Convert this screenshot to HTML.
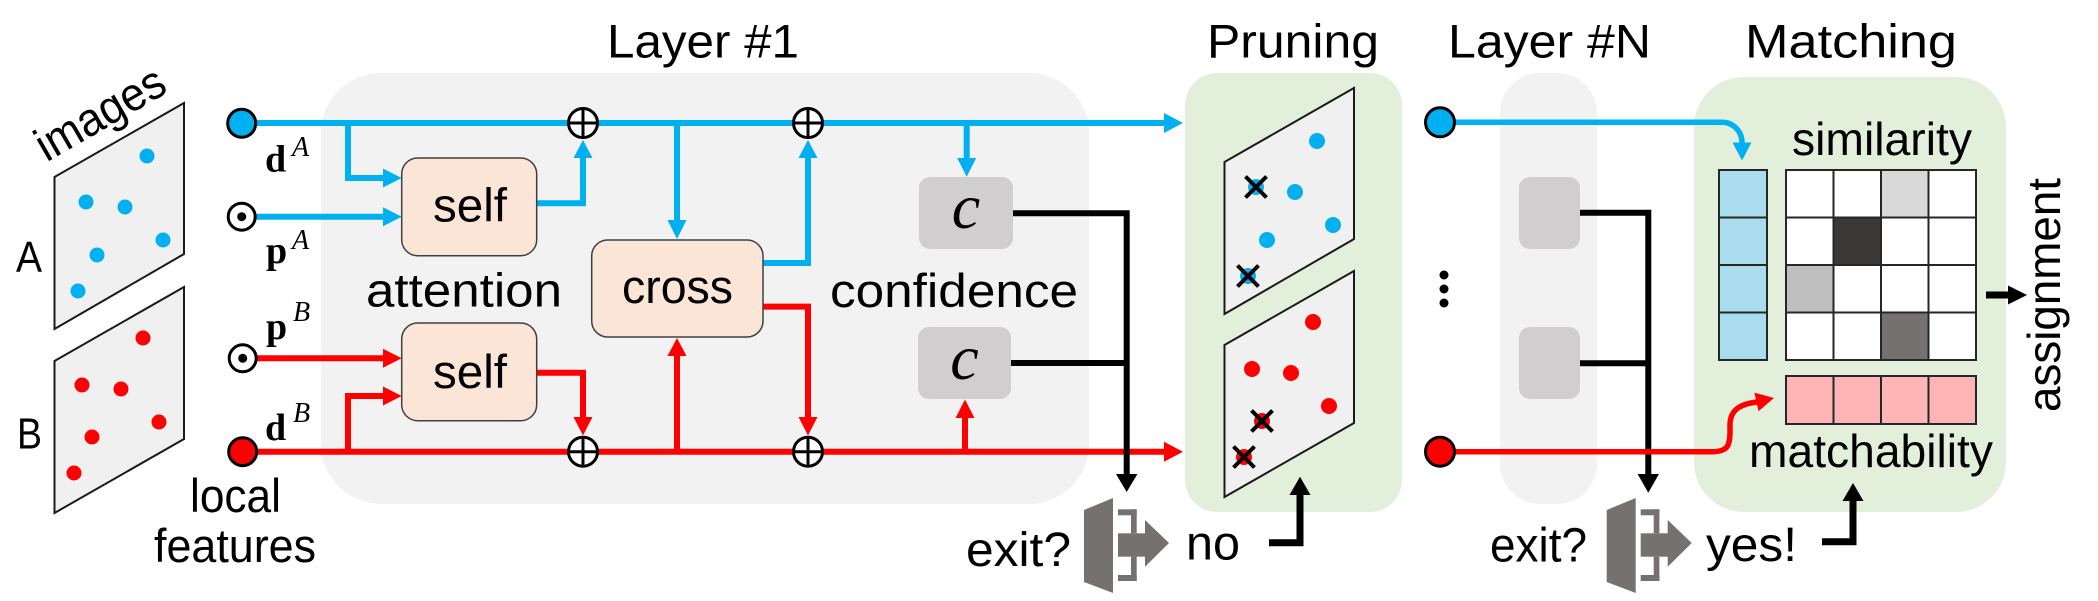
<!DOCTYPE html>
<html>
<head>
<meta charset="utf-8">
<style>
html,body{margin:0;padding:0;background:#fff;}
svg{display:block;}
.s{font-family:"Liberation Sans",sans-serif;fill:#000;}
.m{font-family:"Liberation Serif",serif;fill:#000;}
</style>
</head>
<body>
<svg width="2098" height="601" viewBox="0 0 2098 601" xmlns="http://www.w3.org/2000/svg">
<rect x="0" y="0" width="2098" height="601" fill="#fff"/>

<!-- panels -->
<rect x="321" y="73" width="768" height="431" rx="60" ry="60" fill="#f2f2f2"/>
<rect x="1185" y="73" width="217" height="439" rx="32" ry="32" fill="#e2efda"/>
<rect x="1500" y="73" width="97" height="431" rx="40" ry="40" fill="#f2f2f2"/>
<rect x="1694" y="77" width="312" height="435" rx="50" ry="50" fill="#e2efda"/>

<!-- titles -->
<text class="s" x="607" y="57.5" font-size="47" textLength="192" lengthAdjust="spacingAndGlyphs">Layer #1</text>
<text class="s" x="1207" y="57.5" font-size="47" textLength="172" lengthAdjust="spacingAndGlyphs">Pruning</text>
<text class="s" x="1448" y="57.5" font-size="47" textLength="203" lengthAdjust="spacingAndGlyphs">Layer #N</text>
<text class="s" x="1745" y="57.5" font-size="47" textLength="212" lengthAdjust="spacingAndGlyphs">Matching</text>

<!-- input images -->
<g id="imgA">
<polygon points="54.5,177 184,103 184,254 54.5,329" fill="#f0f0f0" stroke="#1a1a1a" stroke-width="2"/>
<g fill="#00b0f0">
<circle cx="147" cy="156" r="7.5"/><circle cx="86" cy="202" r="7.5"/><circle cx="125" cy="207" r="7.5"/>
<circle cx="163" cy="240" r="7.5"/><circle cx="97" cy="255" r="7.5"/><circle cx="78" cy="291" r="7.5"/>
</g>
</g>
<g id="imgB">
<polygon points="54.5,361 184,287 184,439 54.5,513" fill="#f0f0f0" stroke="#1a1a1a" stroke-width="2"/>
<g fill="#ff0000">
<circle cx="143" cy="338" r="7.5"/><circle cx="82" cy="385" r="7.5"/><circle cx="121" cy="389" r="7.5"/>
<circle cx="159" cy="422" r="7.5"/><circle cx="92" cy="437" r="7.5"/><circle cx="74" cy="473" r="7.5"/>
</g>
</g>
<text class="s" font-size="47" text-anchor="middle" textLength="142" lengthAdjust="spacingAndGlyphs" transform="translate(108,127) rotate(-30)">images</text>
<text class="s" x="16" y="272" font-size="44" textLength="26" lengthAdjust="spacingAndGlyphs">A</text>
<text class="s" x="17" y="448.5" font-size="44" textLength="25" lengthAdjust="spacingAndGlyphs">B</text>
<text class="s" x="190" y="512" font-size="47" textLength="91" lengthAdjust="spacingAndGlyphs">local</text>
<text class="s" x="154" y="562" font-size="47" textLength="162" lengthAdjust="spacingAndGlyphs">features</text>

<!-- math labels -->
<text class="m" x="265" y="171.7" font-size="38" font-weight="bold">d</text>
<text class="m" x="292" y="156" font-size="28" font-style="italic">A</text>
<text class="m" x="266" y="263" font-size="38" font-weight="bold">p</text>
<text class="m" x="292" y="249" font-size="28" font-style="italic">A</text>
<text class="m" x="266" y="339" font-size="38" font-weight="bold">p</text>
<text class="m" x="293" y="321" font-size="28" font-style="italic">B</text>
<text class="m" x="265" y="440" font-size="38" font-weight="bold">d</text>
<text class="m" x="293" y="422" font-size="28" font-style="italic">B</text>

<!-- blue connectors -->
<g stroke="#00b0f0" stroke-width="6" fill="none" stroke-linejoin="miter">
<path d="M256,123 H1165"/>
<path d="M348,123 V178 H385"/>
<path d="M256,216.7 H385"/>
<path d="M536.7,203.3 H583 V156"/>
<path d="M677,123 V222"/>
<path d="M763,263 H808 V156"/>
<path d="M966.7,123 V160"/>
</g>
<g fill="#00b0f0">
<polygon points="1164,113 1183,123 1164,133"/>
<polygon points="383,168.5 401.7,178 383,187.5"/>
<polygon points="383,207.2 401.7,216.7 383,226.2"/>
<polygon points="573.5,158 583,140 592.5,158"/>
<polygon points="667.5,220 677,239 686.5,220"/>
<polygon points="798.5,158 808,140 817.5,158"/>
<polygon points="957.2,158 966.7,176.7 976.2,158"/>
</g>

<!-- red connectors -->
<g stroke="#ff0000" stroke-width="6" fill="none" stroke-linejoin="miter">
<path d="M256,451.7 H1165"/>
<path d="M256,358.3 H385"/>
<path d="M348,451.7 V396 H385"/>
<path d="M536.7,372.7 H583 V419"/>
<path d="M677,451.7 V354"/>
<path d="M763,306.6 H808 V419"/>
<path d="M965,451.7 V416"/>
</g>
<g fill="#ff0000">
<polygon points="1164,441.7 1183,451.7 1164,461.7"/>
<polygon points="383,348.8 401.7,358.3 383,367.8"/>
<polygon points="383,386.5 401.7,396 383,405.5"/>
<polygon points="573.5,417 583,435.5 592.5,417"/>
<polygon points="667.5,356 677,338 686.5,356"/>
<polygon points="798.5,417 808,435.5 817.5,417"/>
<polygon points="955.5,418 965,399.5 974.5,418"/>
</g>

<!-- plus nodes -->
<g stroke="#000" stroke-width="3" fill="#fff">
<circle cx="583" cy="123" r="14.5"/>
<circle cx="808" cy="123" r="14.5"/>
<circle cx="583" cy="451.7" r="14.5"/>
<circle cx="808" cy="451.7" r="14.5"/>
</g>
<g stroke="#000" stroke-width="3">
<path d="M568.5,123 H597.5 M583,108.5 V137.5"/>
<path d="M793.5,123 H822.5 M808,108.5 V137.5"/>
<path d="M568.5,451.7 H597.5 M583,437.2 V466.2"/>
<path d="M793.5,451.7 H822.5 M808,437.2 V466.2"/>
</g>

<!-- input nodes -->
<circle cx="241.7" cy="123.3" r="14" fill="#00b0f0" stroke="#000" stroke-width="3"/>
<circle cx="241.7" cy="216.7" r="13.5" fill="#fff" stroke="#000" stroke-width="3"/>
<circle cx="241.7" cy="216.7" r="4.5" fill="#000"/>
<circle cx="242.7" cy="358.3" r="13.5" fill="#fff" stroke="#000" stroke-width="3"/>
<circle cx="242.7" cy="358.3" r="4.5" fill="#000"/>
<circle cx="242.7" cy="451.7" r="14" fill="#ff0000" stroke="#000" stroke-width="3"/>

<!-- attention boxes -->
<rect x="401.7" y="158" width="135" height="97.7" rx="16" fill="#fbe5d6" stroke="#404040" stroke-width="1.5"/>
<rect x="401.7" y="323" width="135" height="97.7" rx="16" fill="#fbe5d6" stroke="#404040" stroke-width="1.5"/>
<rect x="591.7" y="240" width="171.3" height="97" rx="16" fill="#fbe5d6" stroke="#404040" stroke-width="1.5"/>
<text class="s" x="433" y="221.7" font-size="47" textLength="74" lengthAdjust="spacingAndGlyphs">self</text>
<text class="s" x="433" y="388" font-size="47" textLength="74" lengthAdjust="spacingAndGlyphs">self</text>
<text class="s" x="622" y="303" font-size="47" textLength="111" lengthAdjust="spacingAndGlyphs">cross</text>
<text class="s" x="366" y="306.6" font-size="47" textLength="196" lengthAdjust="spacingAndGlyphs">attention</text>
<text class="s" x="830" y="307" font-size="47" textLength="248" lengthAdjust="spacingAndGlyphs">confidence</text>

<!-- confidence boxes -->
<rect x="919" y="177" width="94" height="72" rx="11" fill="#d0cece"/>
<rect x="918" y="327" width="93" height="72" rx="11" fill="#d0cece"/>
<text class="m" x="966" y="228" font-size="64" font-style="italic" text-anchor="middle">c</text>
<text class="m" x="964.5" y="379" font-size="64" font-style="italic" text-anchor="middle">c</text>

<!-- black confidence lines -->
<g stroke="#000" stroke-width="6" fill="none">
<path d="M1013,213.3 H1126.7 V476"/>
<path d="M1011,363 H1126.7"/>
</g>
<polygon points="1116,474 1126.7,492 1137.4,474" fill="#000"/>

<!-- exit icon 1 -->
<g id="exit1" fill="#767171">
<polygon points="1084,510 1113,498 1113,593 1084,582"/>
<rect x="1118" y="509.3" width="18.7" height="6"/>
<rect x="1131" y="509.3" width="5.7" height="24"/>
<rect x="1118" y="533.3" width="28" height="23.4"/>
<polygon points="1145,520 1169,543 1145,566.7"/>
<rect x="1131" y="556.7" width="5.7" height="24"/>
<rect x="1118" y="575" width="18.7" height="6"/>
</g>
<text class="s" x="966" y="566" font-size="48" textLength="105" lengthAdjust="spacingAndGlyphs">exit?</text>
<text class="s" x="1186" y="559.5" font-size="48" textLength="54" lengthAdjust="spacingAndGlyphs">no</text>
<g stroke="#000" stroke-width="7" fill="none">
<path d="M1269,542.7 H1300 V493"/>
</g>
<polygon points="1289.5,495 1300,476.7 1310.5,495" fill="#000"/>

<!-- pruning images -->
<g transform="translate(1170,-15)">
<polygon points="54.5,177 184,103 184,254 54.5,329" fill="#f0f0f0" stroke="#1a1a1a" stroke-width="2"/>
<g fill="#00b0f0">
<circle cx="147" cy="156" r="8"/><circle cx="86" cy="202" r="8"/><circle cx="125" cy="207" r="8"/>
<circle cx="163" cy="240" r="8"/><circle cx="97" cy="255" r="8"/><circle cx="78" cy="291" r="8"/>
</g>
<g stroke="#000" stroke-width="4">
<path d="M75.5,191.5 L96.5,212.5 M96.5,191.5 L75.5,212.5"/>
<path d="M67.5,280.5 L88.5,301.5 M88.5,280.5 L67.5,301.5"/>
</g>
</g>
<g transform="translate(1170,-16)">
<polygon points="54.5,361 184,287 184,439 54.5,513" fill="#f0f0f0" stroke="#1a1a1a" stroke-width="2"/>
<g fill="#ff0000">
<circle cx="143" cy="338" r="8"/><circle cx="82" cy="385" r="8"/><circle cx="121" cy="389" r="8"/>
<circle cx="159" cy="422" r="8"/><circle cx="92" cy="437" r="8"/><circle cx="74" cy="473" r="8"/>
</g>
<g stroke="#000" stroke-width="4">
<path d="M81.5,426.5 L102.5,447.5 M102.5,426.5 L81.5,447.5"/>
<path d="M63.5,462.5 L84.5,483.5 M84.5,462.5 L63.5,483.5"/>
</g>
</g>

<!-- layer N -->
<circle cx="1444" cy="275" r="4.5" fill="#000"/>
<circle cx="1444" cy="289" r="4.5" fill="#000"/>
<circle cx="1444" cy="303" r="4.5" fill="#000"/>
<rect x="1519" y="177" width="61" height="72" rx="11" fill="#d0cece"/>
<rect x="1519" y="327" width="61" height="72" rx="11" fill="#d0cece"/>
<g stroke="#000" stroke-width="6" fill="none">
<path d="M1580,212.7 H1648.3 V476"/>
<path d="M1580,363.3 H1648.3"/>
</g>
<polygon points="1637.6,474 1648.3,492.7 1659,474" fill="#000"/>

<path d="M1455,122.3 H1722 A20,20 0 0 1 1742,142.3 V144" stroke="#00b0f0" stroke-width="5.5" fill="none"/>
<polygon points="1732.5,142.5 1742,160.5 1751.5,142.5" fill="#00b0f0"/>
<path d="M1455,451.7 H1712 C1728,451.7 1730,445 1730,432 L1730,425 C1730,410 1740,404 1757,402" stroke="#ff0000" stroke-width="5.5" fill="none"/>
<polygon points="1754.4,392.6 1774,398 1758.5,411.2" fill="#ff0000"/>
<circle cx="1440" cy="122.3" r="14.5" fill="#00b0f0" stroke="#000" stroke-width="3"/>
<circle cx="1440" cy="451.7" r="14.5" fill="#ff0000" stroke="#000" stroke-width="3"/>

<!-- exit icon 2 -->
<use href="#exit1" transform="translate(522.7,0)"/>
<text class="s" x="1490" y="561.7" font-size="48" textLength="97" lengthAdjust="spacingAndGlyphs">exit?</text>
<text class="s" x="1706" y="561" font-size="48" textLength="91" lengthAdjust="spacingAndGlyphs">yes!</text>
<g stroke="#000" stroke-width="7" fill="none">
<path d="M1822,541.7 H1853 V499"/>
</g>
<polygon points="1842.5,501 1853,483 1863.5,501" fill="#000"/>

<!-- matching -->
<text class="s" x="1792" y="155" font-size="46" textLength="180" lengthAdjust="spacingAndGlyphs">similarity</text>
<text class="s" x="1749" y="467" font-size="46" textLength="244" lengthAdjust="spacingAndGlyphs">matchability</text>
<g stroke="#262626" stroke-width="2">
<rect x="1719" y="170" width="48" height="47.5" fill="#a9ddee"/>
<rect x="1719" y="217.5" width="48" height="47.5" fill="#a9ddee"/>
<rect x="1719" y="265" width="48" height="47.5" fill="#a9ddee"/>
<rect x="1719" y="312.5" width="48" height="47.5" fill="#a9ddee"/>

<rect x="1786" y="170" width="47.5" height="47.5" fill="#fff"/>
<rect x="1833.5" y="170" width="47.5" height="47.5" fill="#fff"/>
<rect x="1881" y="170" width="47.5" height="47.5" fill="#d9d9d9"/>
<rect x="1928.5" y="170" width="47.5" height="47.5" fill="#fff"/>

<rect x="1786" y="217.5" width="47.5" height="47.5" fill="#fff"/>
<rect x="1833.5" y="217.5" width="47.5" height="47.5" fill="#3b3838"/>
<rect x="1881" y="217.5" width="47.5" height="47.5" fill="#fff"/>
<rect x="1928.5" y="217.5" width="47.5" height="47.5" fill="#fff"/>

<rect x="1786" y="265" width="47.5" height="47.5" fill="#bfbfbf"/>
<rect x="1833.5" y="265" width="47.5" height="47.5" fill="#fff"/>
<rect x="1881" y="265" width="47.5" height="47.5" fill="#fff"/>
<rect x="1928.5" y="265" width="47.5" height="47.5" fill="#fff"/>

<rect x="1786" y="312.5" width="47.5" height="47.5" fill="#fff"/>
<rect x="1833.5" y="312.5" width="47.5" height="47.5" fill="#fff"/>
<rect x="1881" y="312.5" width="47.5" height="47.5" fill="#767171"/>
<rect x="1928.5" y="312.5" width="47.5" height="47.5" fill="#fff"/>

<rect x="1786" y="376" width="47.5" height="48" fill="#ffb5b5"/>
<rect x="1833.5" y="376" width="47.5" height="48" fill="#ffb5b5"/>
<rect x="1881" y="376" width="47.5" height="48" fill="#ffb5b5"/>
<rect x="1928.5" y="376" width="47.5" height="48" fill="#ffb5b5"/>
</g>
<path d="M1986,295 H2010" stroke="#000" stroke-width="7"/>
<polygon points="2008,285.5 2027,295 2008,304.5" fill="#000"/>
<text class="s" font-size="46" text-anchor="middle" textLength="234" lengthAdjust="spacingAndGlyphs" transform="translate(2060,295) rotate(-90)">assignment</text>
</svg>
</body>
</html>
